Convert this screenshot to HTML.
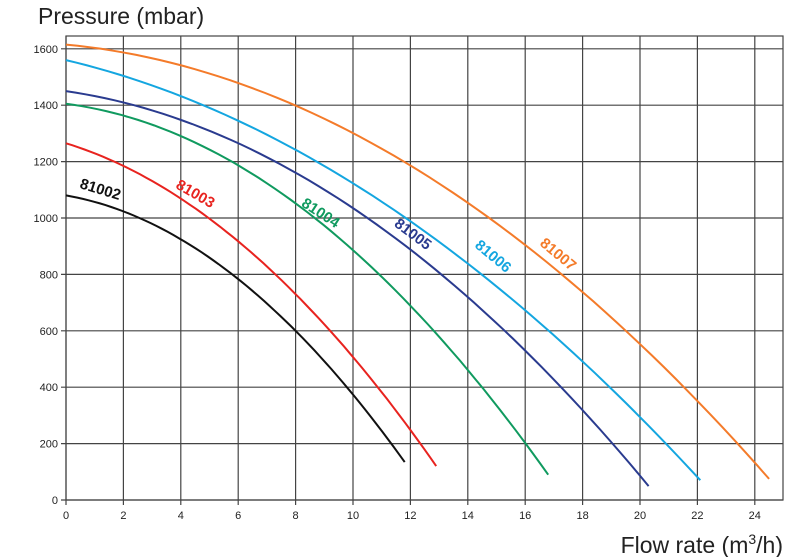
<!DOCTYPE html>
<html><head><meta charset="utf-8">
<style>
html,body{margin:0;padding:0;background:#fff;}
svg{display:block;}
text{font-family:"Liberation Sans",sans-serif;}
</style></head>
<body>
<svg id="s" width="800" height="557" viewBox="0 0 800 557" xmlns="http://www.w3.org/2000/svg">
<text x="38" y="24" font-size="23" fill="#222">Pressure (mbar)</text>
<text x="783" y="553" font-size="23" fill="#222" text-anchor="end">Flow rate (m<tspan font-size="14" dy="-9">3</tspan><tspan dy="9">/h)</tspan></text>
<g id="grid" stroke="#444" stroke-width="1.2" fill="none"></g>
<g id="lab" font-size="11" fill="#222"></g>
<g id="curves" fill="none" stroke-width="2"></g>
<g font-size="15" font-weight="bold" text-anchor="middle">
<text transform="translate(99,194) rotate(17)" fill="#111">81002</text>
<text transform="translate(193,198) rotate(30)" fill="#e8231f">81003</text>
<text transform="translate(318,217) rotate(33)" fill="#109a5f">81004</text>
<text transform="translate(410,238) rotate(37)" fill="#2a3b8f">81005</text>
<text transform="translate(490,260) rotate(40)" fill="#14a6e0">81006</text>
<text transform="translate(555,258) rotate(40)" fill="#f47b2a">81007</text>
</g>
</svg>
<script>
var NS="http://www.w3.org/2000/svg";
function X(q){return 66+q*28.7;}
function Y(p){return 500-p*0.282;}
var g=document.getElementById('grid'),l=document.getElementById('lab');
function el(t,a,p){var e=document.createElementNS(NS,t);for(var k in a)e.setAttribute(k,a[k]);p.appendChild(e);return e;}
el('rect',{x:66,y:36,width:717,height:464},g);
for(var i=0;i<=24;i+=2){var x=X(i);el('line',{x1:x,y1:36,x2:x,y2:505},g);
 var t=el('text',{x:x,y:519,'text-anchor':'middle'},l);t.textContent=i;}
for(var p=0;p<=1600;p+=200){var y=Y(p);el('line',{x1:61,y1:y,x2:783,y2:y},g);
 var t=el('text',{x:58,y:y+4,'text-anchor':'end'},l);t.textContent=p;}
var C=[[1080,17.7,5.29,11.8,'#111'],[1265,31.2,4.46,12.9,'#e8231f'],[1405,13.1,3.88,16.8,'#109a5f'],
[1450,14.8,2.67,20.3,'#2a3b8f'],[1560,24.1,1.96,22.1,'#14a6e0'],[1615,9.7,2.17,24.5,'#f47b2a']];
var cg=document.getElementById('curves');
C.forEach(function(c){var d='';for(var k=0;k<=60;k++){var q=c[3]*k/60;var p=c[0]-c[1]*q-c[2]*q*q;
 d+=(k?'L':'M')+X(q).toFixed(1)+','+Y(p).toFixed(1);}
 el('path',{d:d,stroke:c[4]},cg);});
</script>
</body></html>
